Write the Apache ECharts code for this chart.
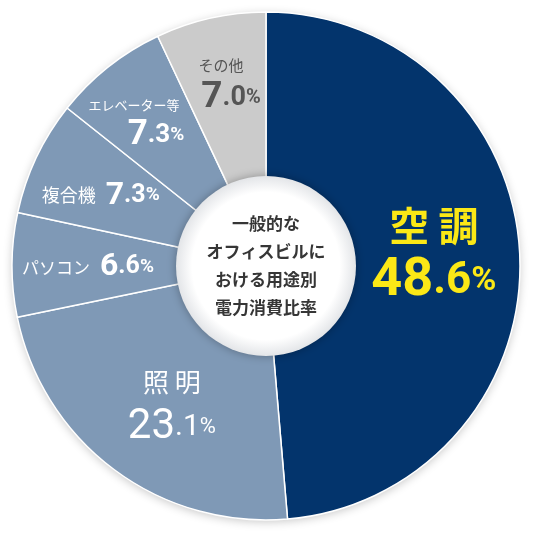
<!DOCTYPE html>
<html>
<head>
<meta charset="utf-8">
<script src="https://cdn.jsdelivr.net/npm/echarts@6/dist/echarts.min.js"></script>
<style>
html, body { margin: 0; padding: 0; background: #fff; }
#main { width: 539px; height: 541px; }
</style>
</head>
<body>
<div id="main"></div>
<script>
var categories = ['空調', '照明', 'パソコン', '複合機', 'エレベーター等', 'その他'];
var values = [48.6, 23.1, 6.6, 7.3, 7.3, 7.0];
var centerLines = ['一般的な', 'オフィスビルに', 'おける用途別', '電力消費比率'];

var colorList = ['#03346c', '#7f99b6', '#7f99b6', '#7f99b6', '#7f99b6', '#cbcbcb'];
var jp = '"Noto Sans CJK JP", sans-serif';
var num = 'Roboto, "Noto Sans", sans-serif';

/* ラベルの見た目 (順番は categories と同じ) */
var labelLook = [
	{ color: '#fbe816', name: 40, nameWeight: 'bold', big: 54, mid: 44, pct: 34, numWeight: 'bold', oneLine: false, spaced: true, nameH: 58, numH: 54, numPad: 0 },
	{ color: '#ffffff', name: 26, nameWeight: 'normal', big: 42, mid: 30, pct: 22, numWeight: 'normal', oneLine: false, spaced: true, nameH: 44, numH: 46, numPad: 0 },
	{ color: '#ffffff', name: 17, nameWeight: 'normal', big: 32, mid: 25, pct: 19, numWeight: 'bold', oneLine: true, numPad: 0 },
	{ color: '#ffffff', name: 18, nameWeight: 'normal', big: 32, mid: 25, pct: 19, numWeight: 'bold', oneLine: true, numPad: 0 },
	{ color: '#ffffff', name: 13, nameWeight: 'normal', big: 35, mid: 26, pct: 19, numWeight: 'bold', oneLine: false, nameH: 18, numH: 44, numPad: 44 },
	{ color: '#555555', name: 15, nameWeight: 'normal', big: 37, mid: 27, pct: 20, numWeight: 'bold', oneLine: false, nameH: 26, numH: 40, numPad: 20 }
];
var labelShift = [[-6, -6], [10, 0], [-4, 2], [-8, 4], [-24, -3], [-7, -11]];

function makeLabel(i) {
	var s = labelLook[i];
	var parts = values[i].toFixed(1).split('.');
	var name = s.spaced ? categories[i].split('').join(' ') : categories[i];
	var sep = s.oneLine ? '   ' : '\n';
	var text = '{n|' + name + '}' + sep;
	if (s.numPad) text += '{s|}';
	text += '{b|' + parts[0] + '}{m|.' + parts[1] + '}{p|%}';
	return {
		show: true,
		position: 'inside',
		formatter: text,
		rich: {
			n: { color: s.color, fontSize: s.name, fontWeight: s.nameWeight, fontFamily: jp, lineHeight: s.nameH || 30 },
			s: { width: s.numPad, lineHeight: s.numH || 30 },
			b: { color: s.color, fontSize: s.big, fontWeight: s.numWeight, fontFamily: num, lineHeight: s.numH || 30 },
			m: { color: s.color, fontSize: s.mid, fontWeight: s.numWeight, fontFamily: num, lineHeight: s.numH || 30 },
			p: { color: s.color, fontSize: s.pct, fontWeight: s.numWeight, fontFamily: num, lineHeight: s.numH || 30 }
		}
	};
}

var pieData = [];
for (var i = 0; i < categories.length; i++) {
	pieData.push({
		name: categories[i],
		value: values[i],
		itemStyle: { color: colorList[i] },
		label: makeLabel(i)
	});
}

var option = {
	backgroundColor: '#ffffff',
	animation: false,
	series: [{
		/* 外側の影 */
		type: 'pie',
		silent: true,
		center: [266, 266],
		radius: [0, 254],
		label: { show: false },
		itemStyle: { color: '#ffffff', shadowBlur: 10, shadowOffsetY: 2, shadowColor: 'rgba(0,0,0,0.22)' },
		data: [{ value: 1 }]
	}, {
		type: 'pie',
		center: [266, 266],
		radius: [88, 254],
		startAngle: 90,
		clockwise: true,
		avoidLabelOverlap: false,
		itemStyle: { borderColor: '#ffffff', borderWidth: 1.5 },
		labelLine: { show: false },
		labelLayout: function(params) {
			var d = labelShift[params.dataIndex];
			return { dx: d[0], dy: d[1] };
		},
		data: pieData
	}, {
		/* 中央の円 */
		type: 'pie',
		silent: true,
		center: [266, 266],
		radius: [0, 90],
		itemStyle: {
			color: {
				type: 'radial', x: 0.5, y: 0.5, r: 0.5,
				colorStops: [
					{ offset: 0, color: '#ffffff' },
					{ offset: 0.82, color: '#ffffff' },
					{ offset: 1, color: '#e3e5e8' }
				]
			},
			shadowBlur: 10,
			shadowColor: 'rgba(0,0,0,0.3)'
		},
		label: {
			show: true,
			position: 'center',
			formatter: centerLines.join('\n'),
			color: '#363636',
			fontSize: 17,
			fontWeight: 'bold',
			fontFamily: jp,
			lineHeight: 28
		},
		labelLine: { show: false },
		data: [{ value: 1, name: 'center' }]
	}]
};

var chart = echarts.init(document.getElementById('main'));
chart.setOption(option);
</script>
</body>
</html>
